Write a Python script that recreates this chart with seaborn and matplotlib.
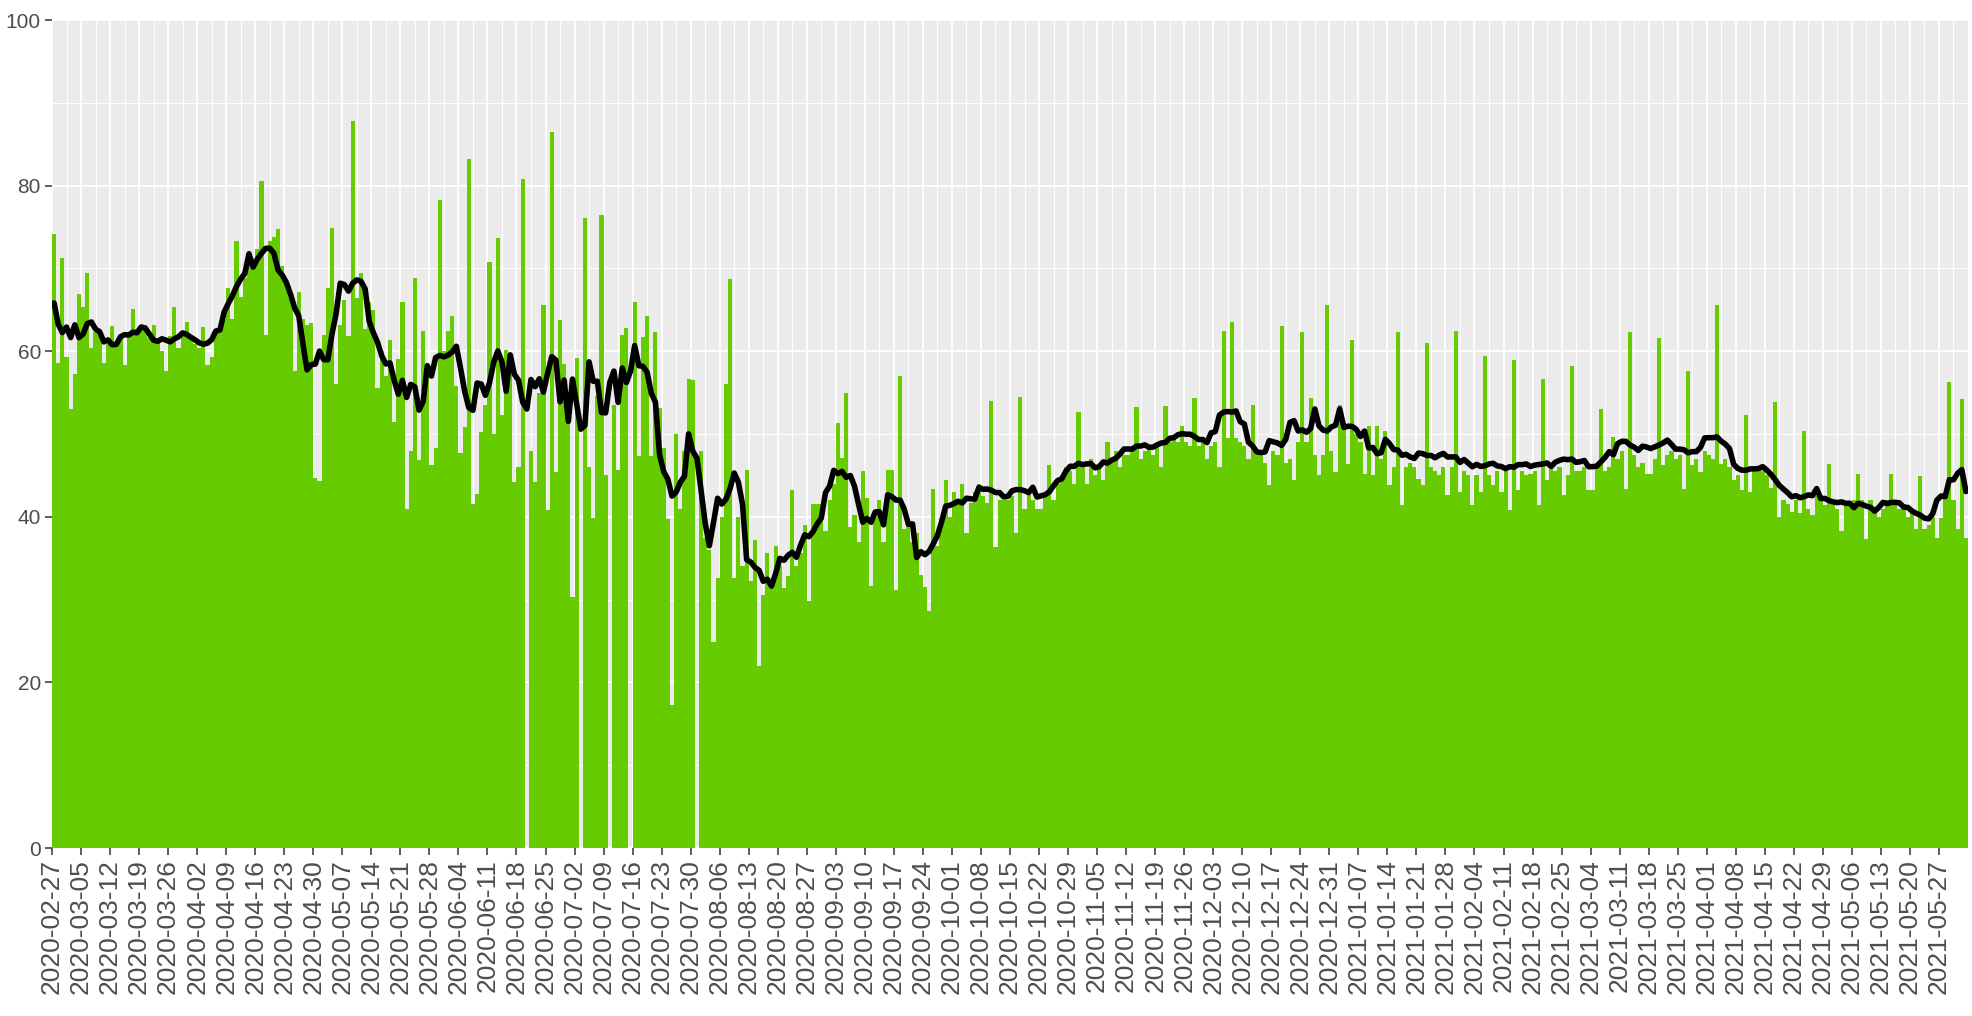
import numpy as np
import pandas as pd
import matplotlib
matplotlib.use("Agg")
import matplotlib.pyplot as plt
import seaborn as sns

nan = np.nan
start_date = "2020-02-27"

# daily values, one row per week (gaps in the record are nan)
values_a = [
    74.2, 58.6, 71.2, 59.3, 53.0, 57.2, 66.9,
    65.3, 69.4, 60.4, 62.3, 61.8, 58.6, 60.9,
    63.0, 60.9, 62.0, 58.3, 62.0, 65.1, 62.7,
    62.7, 63.2, 61.6, 63.2, 61.0, 60.0, 57.6,
    61.8, 65.3, 60.4, 61.8, 63.5, 61.8, 60.9,
    60.4, 62.9, 58.3, 59.3, 62.3, 62.7, 63.9,
    67.6, 63.9, 73.3, 66.6, 68.9, 70.6, 70.1,
    72.4, 80.5, 62.0, 73.3, 73.8, 74.8, 70.3,
    68.2, 66.4, 57.6, 67.1, 63.9, 63.2, 63.4,
    44.7, 44.3, 62.0, 67.6, 74.9, 56.0, 63.2,
    66.2, 61.8, 87.8, 66.4, 69.4, 62.7, 66.0,
]
values_b = [
    65.0, 55.5, 60.0, 57.0, 61.3, 51.4, 59.0,
    65.9, 41.0, 48.0, 68.8, 46.8, 62.4, 57.0,
    46.2, 48.3, 78.3, 60.0, 62.4, 64.2, 55.8,
    47.7, 50.9, 83.2, 41.6, 42.8, 50.3, 53.5,
    70.8, 50.0, 73.7, 52.3, 60.1, 59.8, 44.2,
    46.0, 80.8, nan, 48.0, 44.2, 54.9, 65.6,
    40.8, 86.5, 45.4, 63.8, 58.4, 52.0, 30.3,
    59.2, nan, 76.1, 46.0, 39.9, 54.6, 76.5,
    45.1, nan, 53.5, 45.7, 62.0, 62.8, nan,
    65.9, 47.4, 61.7, 64.3, 47.4, 62.3, 53.2,
    48.3, 39.7, 17.3, 50.0, 41.0, 48.0, 56.6,
]
values_c = [
    56.5, nan, 48.0, 37.5, 36.0, 24.9, 32.6,
    40.0, 56.0, 68.7, 32.6, 40.0, 34.0, 45.7,
    32.3, 37.2, 22.0, 30.5, 35.6, 31.4, 36.5,
    34.0, 31.4, 32.8, 43.2, 34.0, 35.6, 39.0,
    29.8, 41.6, 41.6, 41.6, 38.3, 42.0, 44.0,
    51.3, 47.1, 55.0, 38.8, 40.2, 37.0, 45.5,
    42.3, 31.6, 40.0, 42.0, 37.0, 45.7, 45.7,
    31.2, 57.0, 38.5, 39.0, 37.0, 38.0, 33.0,
    31.5, 28.6, 43.4, 36.5, 39.8, 44.4, 40.0,
    43.0, 42.0, 44.0, 38.0, 41.7, 43.0, 44.0,
    42.5, 41.7, 54.0, 36.3, 42.0, 42.0, 42.0,
]
values_d = [
    42.5, 38.0, 54.5, 41.0, 43.0, 42.0, 41.0,
    41.0, 42.5, 46.2, 42.0, 44.0, 44.5, 46.0,
    45.5, 44.0, 52.7, 46.0, 44.0, 47.0, 45.0,
    46.0, 44.4, 49.0, 47.0, 48.0, 46.0, 47.5,
    47.5, 48.0, 53.3, 47.0, 48.0, 48.5, 47.5,
    48.5, 46.0, 53.4, 49.0, 49.5, 49.0, 51.0,
    49.0, 48.5, 54.3, 48.5, 49.5, 47.0, 48.5,
    49.0, 46.0, 62.5, 49.5, 63.5, 49.5, 49.0,
    48.5, 47.0, 53.5, 47.5, 48.0, 46.5, 43.8,
    48.0, 47.5, 63.1, 46.5, 47.0, 44.4, 49.0,
    62.3, 49.0, 54.3, 47.5, 45.0, 47.5, 65.6,
]
values_e = [
    48.0, 45.4, 53.5, 51.0, 46.4, 61.3, 50.0,
    49.0, 45.2, 51.0, 45.0, 51.0, 47.0, 50.4,
    43.8, 46.0, 62.3, 41.4, 46.0, 46.5, 46.0,
    44.6, 43.8, 61.0, 46.0, 45.5, 45.0, 46.0,
    42.6, 46.0, 62.5, 43.0, 45.5, 45.0, 41.4,
    45.0, 43.0, 59.4, 45.0, 43.8, 45.5, 43.0,
    45.5, 40.8, 58.9, 43.2, 45.5, 45.0, 45.2,
    45.5, 41.4, 56.7, 44.4, 46.0, 45.5, 46.0,
    42.6, 45.0, 58.2, 45.5, 45.5, 46.0, 43.2,
    43.2, 46.0, 53.0, 45.5, 46.0, 49.6, 47.0,
    48.0, 43.4, 62.3, 47.5, 46.0, 46.5, 45.2,
]
values_f = [
    45.2, 47.0, 61.6, 46.2, 47.5, 48.0, 47.0,
    47.5, 43.4, 57.6, 46.2, 47.0, 45.4, 48.0,
    47.5, 47.0, 65.6, 46.4, 47.0, 46.0, 44.4,
    45.0, 43.2, 52.3, 43.0, 45.5, 46.0, 45.5,
    45.0, 43.5, 53.9, 40.0, 42.0, 41.5, 40.6,
    42.0, 40.4, 50.4, 41.0, 40.2, 42.5, 42.0,
    41.4, 46.4, 42.0, 41.0, 38.3, 41.5, 41.4,
    42.0, 45.2, 42.0, 37.3, 42.0, 40.5, 40.0,
    41.0, 42.0, 45.2, 41.5, 41.0, 41.5, 40.0,
    40.5, 38.5, 44.9, 38.5, 39.0, 40.0, 37.5,
    39.8, 43.0, 56.3, 42.0, 38.5, 54.2, 37.5,
]

values = values_a + values_b + values_c + values_d + values_e + values_f
dates = pd.date_range(start_date, periods=len(values), freq="D")
tick_labels = [d.strftime("%Y-%m-%d") for d in dates[::7]]

df = pd.DataFrame({"day": np.arange(len(values)) + 0.5, "value": values})
# 7-day centred moving average, skipping missing days
df["avg"] = df["value"].rolling(7, center=True, min_periods=1).mean()

fig = plt.figure(figsize=(19.72, 10.16), dpi=100)
ax = fig.add_axes([52 / 1972, 168 / 1016, 1916 / 1972, 828 / 1016])
ax.set_facecolor("#EBEBEB")
ax.set_axisbelow(True)

sns.barplot(data=df.dropna(subset=["value"]), x="day", y="value", native_scale=True,
            width=1, color="#66CC00", saturation=1, errorbar=None, linewidth=0,
            antialiased=False, ax=ax)
line = sns.lineplot(data=df, x="day", y="avg", color="black", linewidth=4.0, ax=ax)
for l in ax.lines:
    l.set_solid_joinstyle("round")
    l.set_solid_capstyle("round")

ax.set_xlim(0, len(values))
ax.set_ylim(0, 100)
ax.set_xticks(np.arange(0, len(values), 7))
ax.set_xticks(np.arange(3.5, len(values), 7), minor=True)
ax.set_xticklabels(tick_labels, rotation=90, fontsize=19, color="#4D4D4D",
                   family="Liberation Sans")
ax.set_yticks(np.arange(0, 101, 20))
ax.set_yticks(np.arange(10, 100, 20), minor=True)
ax.set_yticklabels([str(v) for v in range(0, 101, 20)], fontsize=15,
                   color="#4D4D4D", family="Liberation Sans")
ax.grid(which="major", color="white", linewidth=1.3)
ax.grid(which="minor", color="white", linewidth=0.7)
ax.tick_params(which="major", length=5, width=1.1, color="#333333", pad=3)
ax.tick_params(which="minor", length=0)
for s in ax.spines.values():
    s.set_visible(False)
ax.set_xlabel("")
ax.set_ylabel("")

fig.savefig("out.png", dpi=100)
